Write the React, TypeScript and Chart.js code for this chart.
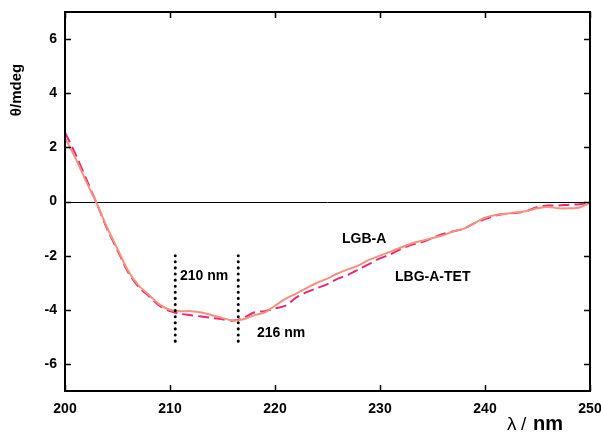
import React, { useEffect, useRef } from "react";
import { Chart, registerables } from "chart.js";

Chart.register(...registerables);

const wavelengths = [200,201,202,203,204,205,206,207,208,209,210,211,212,213,214,215,216,217,218,219,220,221,222,223,224,225,226,227,228,229,230,231,232,233,234,235,236,237,238,239,240,241,242,243,244,245,246,247,248,249,250];

const lgbA = [2.35,1.6,0.75,-0.05,-0.95,-1.75,-2.55,-3.1,-3.45,-3.8,-4.0,-4.05,-4.05,-4.1,-4.2,-4.3,-4.4,-4.35,-4.2,-4.1,-3.85,-3.6,-3.4,-3.2,-3.0,-2.85,-2.65,-2.5,-2.35,-2.15,-2.0,-1.85,-1.7,-1.55,-1.45,-1.35,-1.25,-1.1,-1.0,-0.8,-0.6,-0.5,-0.45,-0.4,-0.35,-0.25,-0.2,-0.25,-0.25,-0.22,-0.05];

const lbgATet = [2.55,1.75,0.85,-0.05,-1.0,-1.8,-2.6,-3.15,-3.5,-3.85,-4.05,-4.15,-4.2,-4.25,-4.3,-4.35,-4.4,-4.3,-4.1,-4.05,-3.95,-3.85,-3.55,-3.35,-3.2,-3.05,-2.85,-2.7,-2.5,-2.3,-2.1,-1.95,-1.75,-1.6,-1.5,-1.35,-1.2,-1.1,-1.0,-0.8,-0.65,-0.52,-0.45,-0.42,-0.35,-0.2,-0.15,-0.15,-0.12,-0.1,-0.05];

const xTicks = [200, 210, 220, 230, 240, 250];
const yTicks = [-6, -4, -2, 0, 2, 4, 6];

const markerLines = [210.5, 216.5];
const markerRange = [-2.0, -5.3];

const FONT = "'Liberation Sans', Arial, sans-serif";

const overlay = {
  id: "overlay",
  beforeDatasetsDraw(chart: any) {
    const { ctx, chartArea, scales } = chart;
    const y0 = scales.y.getPixelForValue(0);
    ctx.save();
    ctx.strokeStyle = "#000";
    ctx.lineWidth = 1;
    ctx.beginPath();
    ctx.moveTo(chartArea.left, Math.round(y0) + 0.5);
    ctx.lineTo(chartArea.right, Math.round(y0) + 0.5);
    ctx.stroke();
    ctx.restore();
  },
  afterDraw(chart: any) {
    const { ctx, chartArea, scales } = chart;
    const { left, right, top, bottom } = chartArea;
    ctx.save();
    ctx.strokeStyle = "#000";
    ctx.lineWidth = 2;
    ctx.strokeRect(left, top, right - left, bottom - top);
    // inward ticks
    const tl = 6;
    ctx.lineWidth = 1.5;
    ctx.beginPath();
    xTicks.forEach((v) => {
      const px = Math.round(scales.x.getPixelForValue(v)) + 0.5;
      ctx.moveTo(px, bottom);
      ctx.lineTo(px, bottom - tl);
      ctx.moveTo(px, top);
      ctx.lineTo(px, top + tl);
    });
    yTicks.forEach((v) => {
      const py = Math.round(scales.y.getPixelForValue(v)) + 0.5;
      ctx.moveTo(left, py);
      ctx.lineTo(left + tl, py);
      ctx.moveTo(right, py);
      ctx.lineTo(right - tl, py);
    });
    ctx.stroke();

    // tick labels
    ctx.fillStyle = "#000";
    ctx.font = `bold 14px ${FONT}`;
    ctx.textAlign = "center";
    ctx.textBaseline = "middle";
    xTicks.forEach((v) => {
      ctx.fillText(String(v), scales.x.getPixelForValue(v), bottom + 18);
    });
    ctx.textAlign = "right";
    yTicks.forEach((v) => {
      ctx.fillText(String(v), left - 8, scales.y.getPixelForValue(v));
    });

    // dotted marker lines
    ctx.lineWidth = 3;
    ctx.lineCap = "round";
    ctx.setLineDash([0.1, 6]);
    markerLines.forEach((v) => {
      const px = scales.x.getPixelForValue(v);
      ctx.beginPath();
      ctx.moveTo(px, scales.y.getPixelForValue(markerRange[0]));
      ctx.lineTo(px, scales.y.getPixelForValue(markerRange[1]));
      ctx.stroke();
    });
    ctx.setLineDash([]);

    // annotations
    ctx.font = `bold 14px ${FONT}`;
    ctx.textBaseline = "middle";
    ctx.textAlign = "left";
    ctx.fillText("210 nm", 180, 276);
    ctx.fillText("216 nm", 257, 333);
    ctx.fillText("LGB-A", 342, 239);
    ctx.fillText("LBG-A-TET", 395, 277);

    // x title
    ctx.textBaseline = "alphabetic";
    ctx.font = `19px ${FONT}`;
    ctx.fillText("λ", 507, 430);
    ctx.fillText("/", 521, 430);
    ctx.font = `bold 20px ${FONT}`;
    ctx.fillText("nm", 533, 430);

    // y title
    ctx.translate(17, 90);
    ctx.rotate(-Math.PI / 2);
    ctx.font = `bold 15px ${FONT}`;
    ctx.textAlign = "center";
    ctx.textBaseline = "middle";
    ctx.fillText("θ/mdeg", 0, 0);
    ctx.restore();
  },
};

export default function App() {
  const ref = useRef<HTMLCanvasElement>(null);
  useEffect(() => {
    const canvas = ref.current!;
    const chart = new Chart(canvas, {
      type: "line",
      data: {
        datasets: [
          {
            label: "LGB-A",
            data: wavelengths.map((x, i) => ({ x, y: lgbA[i] })),
            borderColor: "#F4927E",
            borderWidth: 2,
            pointRadius: 0,
            tension: 0.3,
            fill: false,
          },
          {
            label: "LBG-A-TET",
            data: wavelengths.map((x, i) => ({ x, y: lbgATet[i] })),
            borderColor: "#E8287A",
            borderWidth: 2,
            borderDash: [11, 5],
            pointRadius: 0,
            tension: 0.3,
            fill: false,
          },
        ],
      },
      options: {
        responsive: false,
        animation: false,
        devicePixelRatio: 1,
        layout: { padding: { left: 0, top: 12, right: 11, bottom: 0 } },
        plugins: { legend: { display: false }, tooltip: { enabled: false } },
        scales: {
          x: {
            type: "linear",
            min: 200,
            max: 250,
            afterBuildTicks: (s: any) => {
              s.ticks = xTicks.map((v) => ({ value: v }));
            },
            afterFit: (s: any) => {
              s.height = 46;
            },
            grid: { display: false, drawTicks: false },
            border: { display: false },
            ticks: { display: false },
          },
          y: {
            type: "linear",
            min: -7,
            max: 7,
            afterBuildTicks: (s: any) => {
              s.ticks = yTicks.map((v) => ({ value: v }));
            },
            afterFit: (s: any) => {
              s.width = 65;
            },
            grid: { display: false, drawTicks: false },
            border: { display: false },
            ticks: { display: false },
          },
        },
      },
      plugins: [overlay],
    } as any);
    return () => chart.destroy();
  }, []);
  return (
    <div style={{ position: "fixed", left: 0, top: 0, width: 601, height: 437, background: "#fff" }}>
      <canvas ref={ref} width={601} height={437} style={{ width: 601, height: 437 }} />
    </div>
  );
}
